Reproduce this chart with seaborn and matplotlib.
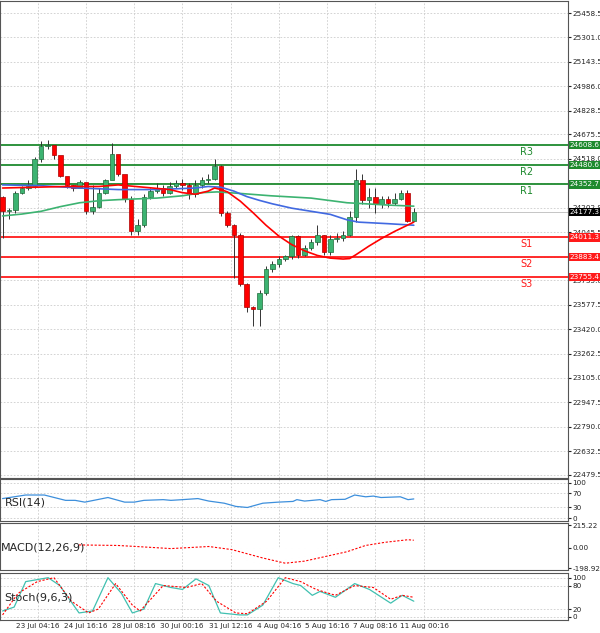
import matplotlib
matplotlib.use("Agg")
import matplotlib.pyplot as plt
import seaborn as sns
import numpy as np
import pandas as pd

sns.set_style("white")
plt.rcParams["font.family"] = "DejaVu Sans"

# --- candles (price) ---
closes = [24180, 24190, 24300, 24330, 24340, 24520, 24600, 24605, 24540, 24410,
          24350, 24330, 24370, 24180, 24210, 24300, 24380, 24550, 24420, 24260,
          24050, 24090, 24275, 24310, 24330, 24300, 24340, 24360, 24350, 24290,
          24350, 24380, 24390, 24470, 24170, 24090, 24030, 23710, 23560, 23550,
          23650, 23810, 23840, 23870, 23890, 24020, 23900, 23940, 23980, 24030,
          23920, 24000, 24010, 24030, 24140, 24380, 24250, 24270, 24225, 24260,
          24235, 24260, 24300, 24120, 24177]
first_open = 24270
highs = [24280, 24200, 24310, 24345, 24380, 24530, 24630, 24640, 24600, 24430,
         24370, 24350, 24380, 24360, 24350, 24330, 24390, 24620, 24480, 24280,
         24280, 24130, 24290, 24330, 24360, 24350, 24370, 24380, 24390, 24360,
         24380, 24400, 24420, 24520, 24480, 24180, 24100, 24040, 23720, 23570,
         23670, 23830, 23860, 23890, 23900, 24030, 24030, 23960, 24000, 24090,
         24030, 24030, 24040, 24050, 24180, 24450, 24420, 24330, 24330, 24280,
         24280, 24300, 24320, 24320, 24200]
lows = [24010, 24130, 24170, 24290, 24320, 24330, 24500, 24580, 24520, 24400,
        24330, 24310, 24340, 24160, 24160, 24200, 24290, 24530, 24410, 24240,
        24030, 24030, 24080, 24260, 24300, 24280, 24290, 24330, 24320, 24260,
        24270, 24330, 24360, 24380, 24150, 24080, 23750, 23700, 23530, 23440,
        23440, 23640, 23790, 23820, 23860, 23870, 23880, 23890, 23930, 23960,
        23900, 23900, 23980, 23990, 24020, 24110, 24230, 24200, 24170, 24200,
        24210, 24220, 24250, 24110, 24120]

# moving averages (candle index, price)
ma_red_x = [0, 5, 10, 15, 18, 22, 26, 28, 30, 32, 33, 34, 35, 37, 39, 41, 43, 45,
            47, 49, 51, 53, 54, 55, 57, 59, 61, 63, 64]
ma_red_y = [24330, 24335, 24340, 24340, 24350, 24335, 24320, 24300, 24290, 24310,
            24330, 24320, 24305, 24245, 24170, 24090, 24020, 23965, 23925, 23895,
            23878, 23872, 23875, 23900, 23955, 24005, 24050, 24090, 24110]
ma_blue_x = [0, 6, 12, 18, 24, 30, 32, 34, 36, 38, 40, 42, 45, 48, 51, 53.6, 55.4,
             60, 64]
ma_blue_y = [24350, 24345, 24330, 24320, 24320, 24330, 24340, 24335, 24310, 24275,
             24250, 24228, 24200, 24180, 24160, 24125, 24110, 24100, 24090]
ma_green_x = [0, 3, 6, 9, 12, 15, 18, 24, 28, 31, 33.4, 37, 41.7, 48, 53.6, 60, 64]
ma_green_y = [24150, 24162, 24180, 24210, 24235, 24248, 24255, 24265, 24280, 24300,
              24305, 24295, 24280, 24265, 24235, 24220, 24213]

levels = [24608.6, 24480.6, 24352.7, 24011.3, 23883.4, 23755.4]
level_names = ["R3", "R2", "R1", "S1", "S2", "S3"]
last_price = 24177.3

price_ticks = [22479.5, 22632.5, 22790.0, 22947.5, 23105.0, 23262.5, 23420.0,
               23577.5, 23735.0, 23888.0, 24045.5, 24202.9, 24360.0, 24518.0,
               24675.5, 24828.5, 24986.0, 25143.5, 25301.0, 25458.5]

# RSI (candle index, value)
rsi_x = [0, 3.6, 6.5, 9.8, 11.3, 12.8, 16.4, 19, 20.5, 22, 25, 26.2, 28, 30.4, 32.1,
         34.5, 36.3, 38.1, 40.5, 42.9, 45.2, 45.8, 47, 49.4, 50.3, 51.2, 53.3, 54.8,
         56.5, 57.7, 58.9, 61.9, 63.1, 64]
rsi_y = [55, 65, 65, 50, 50, 45, 58, 45, 45, 50, 52, 50, 52, 55, 48, 42, 33, 30,
         42, 45, 47, 52, 48, 52, 47, 52, 53, 65, 60, 62, 58, 60, 52, 54]

# MACD
macd_sig_x = [11.9, 17.9, 20.8, 26.2, 32.1, 35.7, 40.5, 44, 47, 53.6, 56.5, 59.5, 63.1, 64]
macd_sig_y = [25, 20, 10, -10, 10, -20, -100, -150, -130, -40, 20, 50, 75, 70]
macd_hist = [0, 0, 5, 5, 5, 5, 5, 5, 5, 0, 0, 0, 0, 0, 0, 0, 0, 0, 0, -5,
             -15, -15, -10, -10, -5, -5, -5, 0, 0, 0, 5, 5, 10, 15, 10, -5,
             -40, -80, -120, -140, -150, -145, -130, -120, -110, -100, -90, -80, -70, -60,
             -50, -40, -30, -20, -10, 15, 35, 45, 55, 65, 75, 80, 80, 75, 70]

# Stochastic
st_x = [0, 1.8, 3.6, 7.1, 8.9, 11.9, 14, 16.4, 18.5, 20.2, 22, 23.8, 26.2, 28, 30.1,
        32.1, 33.9, 36.9, 38.1, 40.5, 42.9, 45.2, 46.4, 48.2, 49.4, 51.8, 54.8,
        57.1, 60.4, 62.2, 64]
st_main = [15, 25, 90, 100, 80, 10, 15, 100, 60, 10, 20, 85, 75, 70, 97, 80, 10,
           5, 5, 30, 100, 85, 80, 55, 65, 50, 85, 70, 35, 55, 40]
sig_x = [0, 2.4, 5.4, 8, 10.7, 13.4, 14.9, 17.6, 20.2, 21.4, 25, 28.6, 31, 33.3,
         36.3, 38.1, 41.1, 44, 46.4, 48.8, 51.8, 54.8, 57.7, 60.4, 62.2, 64]
st_sig = [5, 60, 90, 100, 40, 10, 20, 85, 30, 15, 80, 75, 85, 40, 10, 8, 40, 100,
          90, 70, 55, 80, 75, 45, 55, 50]

date_labels = ["22 Jul 12:16", "23 Jul 04:16", "24 Jul 16:16", "28 Jul 08:16",
               "30 Jul 00:16", "31 Jul 12:16", "4 Aug 04:16", "5 Aug 16:16",
               "7 Aug 08:16", "11 Aug 00:16"]
date_pos = [-2.0, 5.5, 13.0, 20.4, 27.9, 35.5, 43.0, 50.5, 58.0, 65.6]

opens = [first_open] + closes[:-1]
df = pd.DataFrame({"i": np.arange(len(closes)), "o": opens, "c": closes,
                   "h": highs, "l": lows})
XMIN, XMAX = -0.4, 88.0
GREEN = "#3cb371"
FS = 5.2

fig = plt.figure(figsize=(6, 6.33), dpi=100)
ax = fig.add_axes([0.0, 1 - 478 / 633, 0.9467, 477 / 633])
ax_rsi = fig.add_axes([0.0, 1 - 521 / 633, 0.9467, 42 / 633])
ax_macd = fig.add_axes([0.0, 1 - 570 / 633, 0.9467, 47 / 633])
ax_st = fig.add_axes([0.0, 1 - 620 / 633, 0.9467, 47 / 633])
panels = (ax, ax_rsi, ax_macd, ax_st)

# main panel
up = df[df.c >= df.o]
dn = df[df.c < df.o]
ax.vlines(df.i, df.l, df.h, color="#333333", linewidth=0.7, zorder=3)
ax.bar(up.i, up.c - up.o, bottom=up.o, width=0.7, color=GREEN,
       edgecolor="#1e6b3a", linewidth=0.5, zorder=4)
ax.bar(dn.i, dn.o - dn.c, bottom=dn.c, width=0.7, color="#ff0000",
       edgecolor="#aa0000", linewidth=0.5, zorder=4)

sns.lineplot(x=ma_green_x, y=ma_green_y, ax=ax, color="#3cb371", linewidth=1.2, zorder=5)
sns.lineplot(x=ma_blue_x, y=ma_blue_y, ax=ax, color="#4169e1", linewidth=1.2, zorder=5)
sns.lineplot(x=ma_red_x, y=ma_red_y, ax=ax, color="#ff0000", linewidth=1.2, zorder=6)

ax.set_ylim(22460, 25536)
ax.set_yticks(price_ticks)
ax.set_yticklabels([f"{t:.1f}" for t in price_ticks])
ax.grid(True, axis="y", linestyle=(0, (2, 2)), color="#cccccc", linewidth=0.6)

for lv, name in zip(levels, level_names):
    col = "#1e8a2e" if name.startswith("R") else "#ff1a1a"
    ax.axhline(lv, color=col, linewidth=1.3, zorder=2)
    ax.text(81.5, lv - 45, name, color=col, fontsize=7, ha="center", va="center")
    ax.text(1.003, lv, f"{lv:.1f}", transform=ax.get_yaxis_transform(), fontsize=FS,
            color="white", va="center", ha="left", zorder=10,
            bbox=dict(boxstyle="square,pad=0.15", fc=col, ec="none"))
ax.axhline(last_price, color="#bbbbbb", linewidth=0.6, zorder=1)
ax.text(1.003, last_price, f"{last_price:.1f}", transform=ax.get_yaxis_transform(),
        fontsize=FS, color="white", va="center", ha="left", zorder=10,
        bbox=dict(boxstyle="square,pad=0.15", fc="black", ec="none"))

# RSI
sns.lineplot(x=rsi_x, y=rsi_y, ax=ax_rsi, color="#3d8fdc", linewidth=0.9)
ax_rsi.set_ylim(-8, 110)
ax_rsi.set_yticks([0, 30, 70, 100])
ax_rsi.grid(True, axis="y", linestyle=(0, (2, 2)), color="#cccccc", linewidth=0.6)
ax_rsi.text(0.3, 45, "RSI(14)", fontsize=8, va="center")

# MACD
ax_macd.bar(np.arange(len(macd_hist)), macd_hist, width=0.15, color="#aaaaaa")
sns.lineplot(x=macd_sig_x, y=macd_sig_y, ax=ax_macd, color="#ff0000",
             linewidth=0.8, linestyle=(0, (2, 1.5)))
ax_macd.set_ylim(-215, 235)
ax_macd.set_yticks([-198.92, 0, 215.22])
ax_macd.set_yticklabels(["-198.92", "0.00", "215.22"])
ax_macd.text(-0.2, 0, "MACD(12,26,9)", fontsize=8, va="center")

# Stoch
sns.lineplot(x=st_x, y=st_main, ax=ax_st, color="#40c0b0", linewidth=0.9)
sns.lineplot(x=sig_x, y=st_sig, ax=ax_st, color="#ff0000", linewidth=0.8,
             linestyle=(0, (2, 1.5)))
ax_st.set_ylim(-8, 112)
ax_st.set_yticks([0, 20, 80, 100])
ax_st.grid(True, axis="y", linestyle=(0, (2, 2)), color="#cccccc", linewidth=0.6)
ax_st.text(0.3, 50, "Stoch(9,6,3)", fontsize=8, va="center")

for a in panels:
    a.yaxis.tick_right()
    a.tick_params(axis="y", labelsize=FS, length=2, pad=1, colors="#222222")
    a.tick_params(axis="x", length=0)
    a.set_xticks(date_pos)
    a.set_xticklabels([])
    a.grid(True, axis="x", linestyle=(0, (2, 2)), color="#cccccc", linewidth=0.6)
    a.set_xlim(XMIN, XMAX)
    for s in a.spines.values():
        s.set_color("#555555")
        s.set_linewidth(0.8)

ax_st.set_xticklabels(date_labels)
ax_st.tick_params(axis="x", labelsize=FS, pad=2)
ax_st.set_xlim(XMIN, XMAX)

fig.savefig("out.png", dpi=100)
